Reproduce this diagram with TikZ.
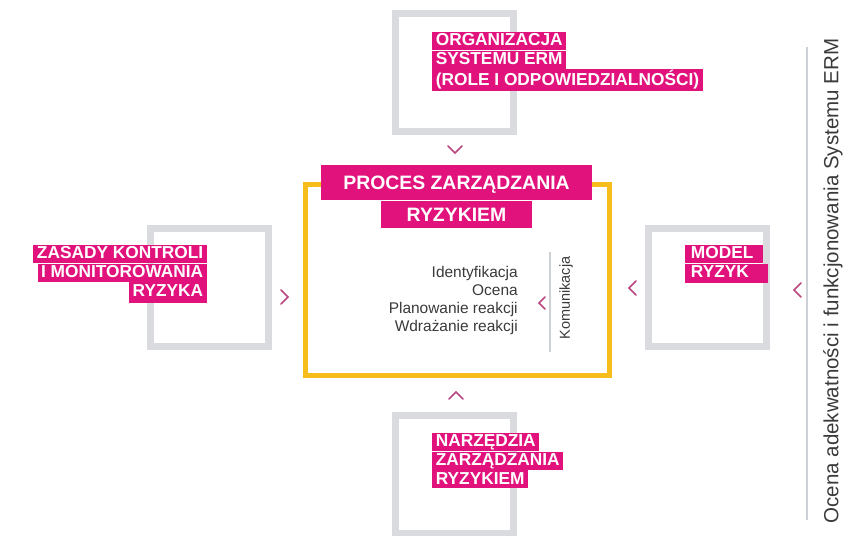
\documentclass[tikz,border=0pt]{standalone}
\usepackage{fontspec}
\setmainfont{Liberation Sans}
\usepackage{tikz}
\usetikzlibrary{positioning, calc}
\definecolor{ermpink}{HTML}{E2127D}
\definecolor{ermyellow}{HTML}{F6BD1C}
\definecolor{framegray}{HTML}{D9DBDF}
\definecolor{chevpink}{HTML}{B8467F}
\definecolor{textgray}{HTML}{3A3A3A}
\definecolor{linegray}{HTML}{CDD0D4}
\tikzset{
  % Gray square frames
  frame/.style={
    rectangle, draw=framegray, line width=0.175cm,
    minimum size=2.95cm, inner sep=0pt,
  },
  % Yellow process frame
  procframe/.style={
    rectangle, draw=ermyellow, line width=0.125cm,
    minimum width=7.6cm, minimum height=4.775cm, inner sep=0pt,
  },
  % Magenta label rows
  lblrow/.style={
    rectangle, fill=ermpink, text=white,
    font=\fontsize{12.3}{14}\selectfont\bfseries,
    text height=9pt, text depth=2.4pt, inner xsep=2.5pt, inner ysep=0.7pt,
  },
  % Title rows
  titlerow/.style={
    rectangle, fill=ermpink, text=white,
    font=\fontsize{13.8}{15}\selectfont\bfseries,
    text height=10pt, text depth=0pt, inner sep=0pt,
  },
  % Plain texts
  plaintext/.style={font=\fontsize{11}{12.8}\selectfont, text=textgray, inner sep=0pt},
  % Chevrons
  chev/.style={draw=chevpink, line width=1.1pt, line cap=round, line join=miter},
  % Separator lines
  sepline/.style={draw=linegray, line width=1.3pt},
}

\begin{document}
\begin{tikzpicture}[x=0.025cm, y=-0.025cm]
  \useasboundingbox (0,0) rectangle (845,535);
  \clip (0,0) rectangle (845,535);

  % Frames
  \node[frame] (orgframe) at (454.5,72.5) {};
  \node[frame] (zasframe) at (209.5,287.5) {};
  \node[frame] (modframe) at (707.5,287.5) {};
  \node[frame] (narframe) at (454.5,474.5) {};
  \node[procframe] (proc) at (457.5,280) {};

  % Top label
  \node[lblrow, anchor=north west] (org1) at (432,32) {ORGANIZACJA};
  \node[lblrow, below right=0pt and 0pt of org1.south west] (org2) {SYSTEMU ERM};
  \node[lblrow, below right=0pt and 0pt of org2.south west, text depth=3.4pt,
        text height=10.5pt] (org3) {(ROLE I ODPOWIEDZIALNOŚCI)};

  % Left label
  \node[lblrow, anchor=north east] (zas1) at (207,245) {ZASADY KONTROLI};
  \node[lblrow, below left=0pt and 0pt of zas1.south east] (zas2) {I MONITOROWANIA};
  \node[lblrow, below left=0pt and 0pt of zas2.south east, text depth=4pt] (zas3) {RYZYKA};

  % Right label
  \node[lblrow, anchor=north west, inner xsep=4pt, text width=47pt, align=left] (mod1)
    at (685,245) {MODEL};
  \node[lblrow, below right=0pt and 0pt of mod1.south west, inner xsep=4pt,
        text width=51pt, align=left, text depth=3.2pt] (mod2) {RYZYK};

  % Bottom label
  \node[lblrow, anchor=north west] (nar1) at (432,433) {NARZĘDZIA};
  \node[lblrow, below right=0pt and 0pt of nar1.south west] (nar2) {ZARZĄDZANIA};
  \node[lblrow, below right=0pt and 0pt of nar2.south west] (nar3) {RYZYKIEM};

  % Title on the yellow frame
  \node[titlerow, minimum width=6.775cm, minimum height=0.875cm] (title1) at (456.5,182.5)
    {PROCES ZARZĄDZANIA};
  \node[titlerow, below=0pt of title1, minimum width=3.775cm, minimum height=0.675cm,
        anchor=north] (title2) {RYZYKIEM};

  % Process steps
  \node[plaintext, align=right, anchor=east] (steps) at (518,300.5) {
    Identyfikacja\\
    Ocena\\
    Planowanie reakcji\\
    Wdrażanie reakcji
  };
  \node[plaintext, rotate=90, font=\fontsize{10.3}{12}\selectfont] (komun) at (566,298) {Komunikacja};
  \coordinate (komtop) at (550,252);
  \coordinate (kombot) at (550,352);
  \draw[sepline] (komtop) -- (kombot);

  % Right side assessment
  \node[plaintext, rotate=90, font=\fontsize{14.6}{16}\selectfont] (eval) at (833,281)
    {Ocena adekwatności i funkcjonowania Systemu ERM};
  \coordinate (evtop) at (807,47);
  \coordinate (evbot) at (807,520);
  \draw[sepline] (evtop) -- (evbot);

  % Chevrons
  \draw[chev] (448,146) -- (455,153) -- (462,146);
  \draw[chev] (449,399) -- (456,392) -- (463,399);
  \draw[chev] (281,290) -- (288,297) -- (281,304);
  \draw[chev] (545,297) -- (539,303) -- (545,309);
  \draw[chev] (636,281) -- (629,288) -- (636,295);
  \draw[chev] (801,283) -- (794,290) -- (801,297);
\end{tikzpicture}
\end{document}
